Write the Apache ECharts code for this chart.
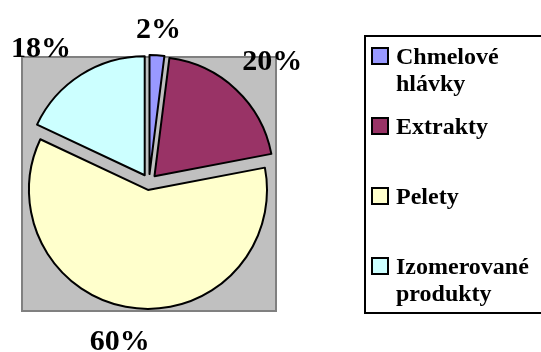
<!DOCTYPE html>
<html>
<head>
<meta charset="utf-8">
<script src="https://cdn.jsdelivr.net/npm/echarts@6/dist/echarts.min.js"></script>
<style>
html, body { margin: 0; padding: 0; background: #fff; }
#main { width: 541px; height: 352px; }
</style>
</head>
<body>
<div id="main"></div>
<script>
// data
const categories = ['Chmelové hlávky', 'Extrakty', 'Pelety', 'Izomerované produkty'];
const legendText = ['Chmelové\nhlávky', 'Extrakty', 'Pelety', 'Izomerované\nprodukty'];
const values = [2, 20, 60, 18];
const colors = ['#9999ff', '#993366', '#ffffcc', '#ccffff'];

// label placement per slice (hidden label line lengths), Excel does not sit labels on the mid angle
const lineLen = [25, 37, 35, 30];
const lineLen2 = [0, 11, 9, 24];

const serif = '"Liberation Serif", "Times New Roman", serif';
const chart = echarts.init(document.getElementById('main'));

// legend drawn by hand, icon aligned to the first text line
const legendItems = [];
categories.forEach((name, i) => {
    const y = 48 + i * 70;
    legendItems.push({
        type: 'rect',
        shape: { x: 372, y: y, width: 16, height: 16 },
        style: { fill: colors[i], stroke: '#000', lineWidth: 2 }
    });
    legendItems.push({
        type: 'text',
        x: 396, y: y - 4,
        style: { text: legendText[i], font: 'bold 24px ' + serif, fill: '#000', lineHeight: 27, verticalAlign: 'top' }
    });
});

const option = {
    animation: false,
    graphic: [
        {   // plot area
            type: 'rect', z: 0,
            shape: { x: 22, y: 57, width: 254, height: 254 },
            style: { fill: '#c0c0c0', stroke: '#808080', lineWidth: 2 }
        },
        {   // legend box
            type: 'rect', z: 0,
            shape: { x: 365, y: 36, width: 190, height: 277 },
            style: { fill: '#fff', stroke: '#000', lineWidth: 2 }
        },
        { type: 'group', z: 5, children: legendItems }
    ],
    series: [{
        type: 'pie',
        center: [149, 182],
        radius: 119,
        startAngle: 90,
        clockwise: true,
        selectedMode: 'multiple',
        selectedOffset: 8,
        avoidLabelOverlap: false,
        emphasis: { disabled: true },
        itemStyle: { borderColor: '#000', borderWidth: 2 },
        label: {
            position: 'outside',
            formatter: '{c}%',
            color: '#000',
            fontFamily: serif,
            fontWeight: 'bold',
            fontSize: 30,
            distanceToLabelLine: 0
        },
        labelLine: { show: false, length: 30, length2: 0 },
        labelLayout: { align: 'center', verticalAlign: 'middle' },
        data: categories.map((n, i) => ({
            name: n,
            value: values[i],
            selected: true,
            itemStyle: { color: colors[i] },
            labelLine: { show: false, length: lineLen[i], length2: lineLen2[i] }
        }))
    }]
};

chart.setOption(option);
window.addEventListener('resize', function () {
    chart.resize();
});
</script>
</body>
</html>
